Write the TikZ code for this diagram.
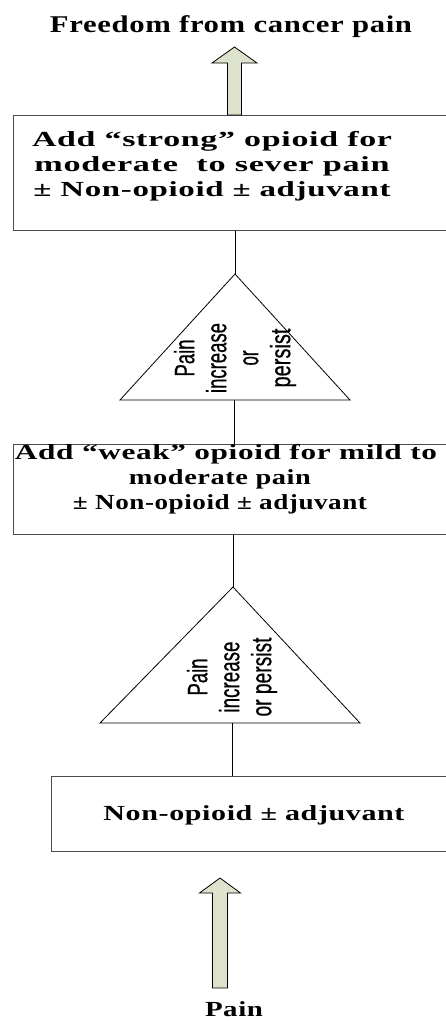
\documentclass[tikz,border=0pt]{standalone}
\usepackage{fontspec}
\usepackage{graphicx}
\setmainfont{Liberation Serif}
\newfontfamily\serifsp[LetterSpace=2]{Liberation Serif}
\newfontfamily\trifont[FakeBold=0.6]{Liberation Sans}
\usetikzlibrary{calc}
\newcommand{\hs}[2]{\resizebox{#1}{\height}{#2}}
\definecolor{arrowfill}{RGB}{221,226,204}
\begin{document}
\begin{tikzpicture}[x=1pt,y=-1pt,
  boxshape/.style={draw=black!70, line width=1.1pt, rectangle, anchor=north west, inner sep=0},
  bodytext/.style={align=center, inner sep=0, font=\fontsize{21.5}{25}\selectfont\serifsp\bfseries},
  tritext/.style={rotate=90, align=center, inner sep=0, font=\fontsize{28}{32}\selectfont\trifont},
  link/.style={draw=black, line width=0.8pt},
  blockarrow/.style={draw=black, fill=arrowfill, line width=0.8pt, line join=miter}
]
\useasboundingbox (0,0) rectangle (446,1021);

% boxes
\node[boxshape, minimum width=440pt, minimum height=115pt] (b1) at (13,115) {};
\node[boxshape, minimum width=440pt, minimum height=90pt] (b2) at (13,444) {};
\node[boxshape, minimum width=402pt, minimum height=75pt] (b3) at (51,776) {};

% triangles
\coordinate (t1a) at (235,274);
\coordinate (t1l) at (120,400);
\coordinate (t1r) at (350,400);
\coordinate (t1b) at (234,400);
\draw[link] (t1a) -- (t1l) -- (t1r) -- cycle;
\coordinate (t2a) at (233,587);
\coordinate (t2l) at (100,723);
\coordinate (t2r) at (360,723);
\coordinate (t2b) at (232,723);
\draw[link] (t2a) -- (t2l) -- (t2r) -- cycle;

% connectors
\draw[link] (b1.south -| t1a) -- (t1a);
\draw[link] (t1b) -- (t1b |- b2.north);
\draw[link] (b2.south -| t2a) -- (t2a);
\draw[link] (t2b) -- (t2b |- b3.north);

% texts
\node[font=\fontsize{24}{28}\selectfont\serifsp\bfseries, anchor=base, inner sep=0] (title) at (231,32) {\hs{362pt}{Freedom from cancer pain}};
\node[bodytext] (b1t) at (212,166) {\hs{360pt}{Add “strong” opioid for}\\ \hs{355pt}{moderate~ to sever pain}\\ \hs{357pt}{± Non-opioid ± adjuvant}};
\node[bodytext] (b2t) at (220,479) {\hspace*{12pt}\hs{422pt}{Add “weak” opioid for mild to}\\ \hs{182pt}{moderate pain}\hspace*{22pt}\\ \hs{294pt}{± Non-opioid ± adjuvant}};
\node[bodytext, anchor=base] (b3t) at (254,820) {\hs{301pt}{Non-opioid ± adjuvant}};
\node[bodytext, anchor=base] (pain) at (234,1016) {\hs{58pt}{Pain}};

\node[tritext] (t1t) at (235,358) {\hs{37pt}{Pain}\\ \hs{70pt}{increase}\\ \hs{15pt}{or}\\ \hs{59pt}{persist}};
\node[tritext] (t2t) at (232,677) {\hs{37pt}{Pain}\\ \hs{71pt}{increase}\\ \hs{79pt}{or persist}};

% block arrows
\coordinate (a1tip) at (234.5,47);
\draw[blockarrow] (a1tip) -- ++(22.5,16) -- ++(-15.5,0) -- ($(a1tip |- b1.north)+(7,0)$) -- ++(-14,0) -- ($(a1tip)+(-7,16)$) -- ++(-15.5,0) -- cycle;
\coordinate (a2tip) at (220,878);
\coordinate (a2base) at (220,988);
\draw[blockarrow] (a2tip) -- ++(20.5,15) -- ++(-13,0) -- ($(a2base)+(7.5,0)$) -- ++(-15,0) -- ($(a2tip)+(-7.5,15)$) -- ++(-13,0) -- cycle;
\end{tikzpicture}
\end{document}
